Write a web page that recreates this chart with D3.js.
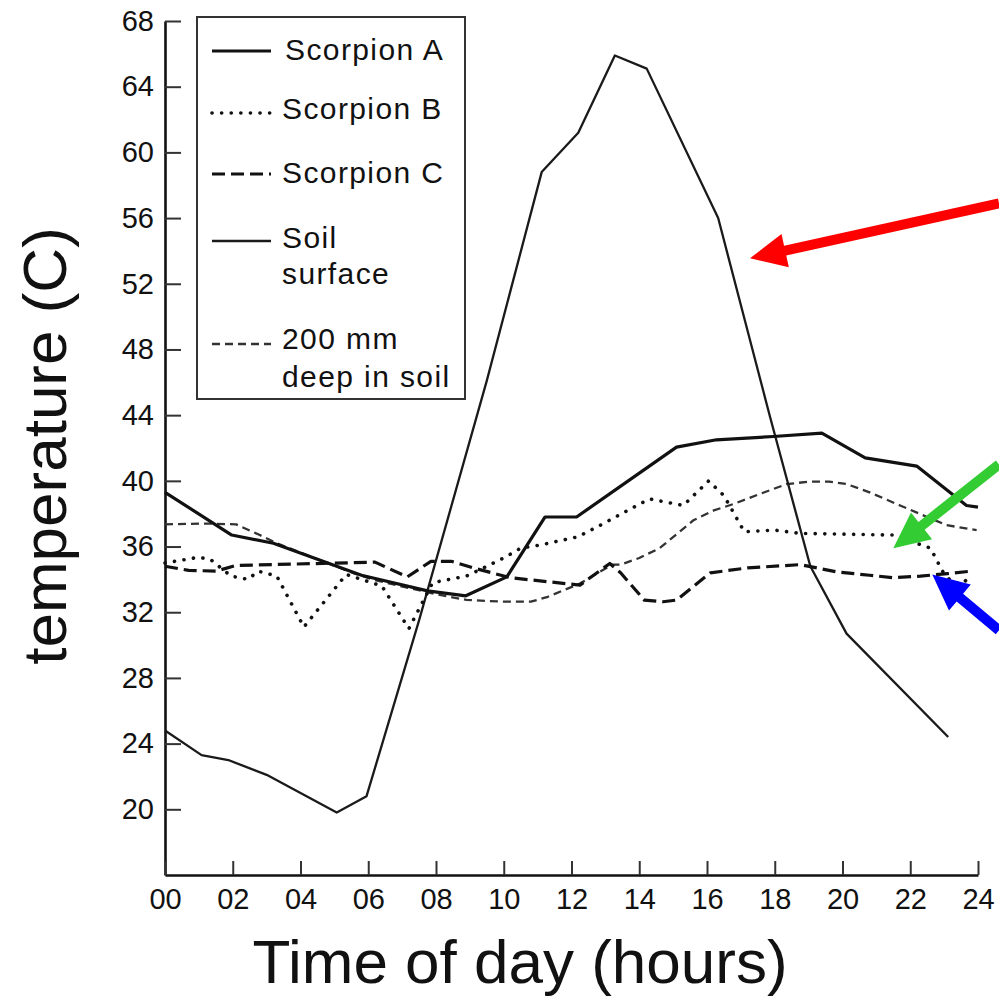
<!DOCTYPE html>
<html>
<head>
<meta charset="utf-8">
<script src="https://cdn.jsdelivr.net/npm/d3@7"></script>
<style>
  html, body { margin: 0; padding: 0; background: #ffffff; }
  svg { display: block; }
  text { font-family: "Liberation Sans", Arial, Helvetica, sans-serif; fill: #111; }
</style>
</head>
<body>
<svg id="chart" width="999" height="1004"></svg>
<script>
// ---------- data ----------
const xTickValues = [0, 2, 4, 6, 8, 10, 12, 14, 16, 18, 20, 22, 24];
const yTickValues = [20, 24, 28, 32, 36, 40, 44, 48, 52, 56, 60, 64, 68];

const scorpionAHours = [0, 1.97, 3.2, 5.8, 7.75, 8.88, 10.09, 11.22, 12.15, 15.1, 16.28, 17.96, 19.39, 20.67, 22.19, 23.66, 24];
const scorpionATemps = [39.3, 36.7, 36.2, 34.25, 33.3, 33.0, 34.15, 37.8, 37.8, 42.05, 42.5, 42.7, 42.9, 41.4, 40.9, 38.5, 38.4];

const scorpionBHours = [0, 1.0, 1.35, 1.95, 2.45, 2.75, 3.3, 4.1, 5.35, 6.4, 7.2, 7.9, 8.9, 10.0, 10.5, 11.1, 12.2, 12.85, 13.75, 14.3, 15.3, 16.05, 16.5, 17.1, 18.0, 18.75, 21.5, 22.6, 22.95, 23.2, 23.5, 23.8];
const scorpionBTemps = [35.0, 35.35, 35.2, 34.2, 34.0, 34.5, 34.2, 31.1, 34.3, 33.6, 31.0, 33.8, 34.2, 35.3, 35.9, 36.1, 36.6, 37.3, 38.3, 38.9, 38.5, 40.0, 39.1, 36.9, 37.0, 36.8, 36.7, 35.9, 34.5, 33.9, 33.7, 34.2];

const scorpionCHours = [0, 0.7, 1.5, 2.1, 6.2, 7.15, 7.85, 8.45, 9.1, 10.2, 12.25, 13.13, 13.45, 14.15, 14.7, 15.1, 16.1, 17.2, 18.75, 19.85, 20.8, 21.5, 22.3, 23.1, 23.8];
const scorpionCTemps = [34.8, 34.55, 34.5, 34.85, 35.05, 34.15, 35.1, 35.1, 34.7, 34.1, 33.65, 34.97, 34.4, 32.74, 32.64, 32.74, 34.4, 34.7, 34.9, 34.45, 34.25, 34.1, 34.2, 34.35, 34.5];

const soilSurfaceHours = [0, 1.08, 1.87, 3.0, 5.07, 5.95, 7.5, 9.5, 11.12, 12.2, 13.28, 14.22, 16.33, 17.86, 19.05, 20.12, 23.12];
const soilSurfaceTemps = [24.8, 23.3, 23.0, 22.1, 19.8, 20.8, 31.5, 46.1, 58.8, 61.2, 65.9, 65.1, 56.0, 43.9, 34.8, 30.7, 24.4];

const deepSoilHours = [0, 1.2, 2.1, 2.8, 3.3, 5.6, 6.2, 8.0, 8.9, 10.0, 10.8, 11.3, 12.25, 13.2, 13.45, 14.0, 14.6, 15.6, 16.2, 16.8, 17.56, 18.35, 19.0, 19.6, 20.13, 20.8, 21.7, 22.5, 23.07, 23.96];
const deepSoilTemps = [37.35, 37.4, 37.35, 36.7, 36.2, 34.35, 33.95, 33.1, 32.75, 32.64, 32.64, 32.94, 33.75, 34.9, 34.9, 35.3, 35.9, 37.6, 38.2, 38.6, 39.2, 39.8, 39.95, 39.95, 39.8, 39.3, 38.5, 37.8, 37.3, 37.0];

const seriesNames = ["Scorpion A", "Scorpion B", "Scorpion C", "Soil surface", "200 mm deep in soil"];
const legendLabels = [["Scorpion A"], ["Scorpion B"], ["Scorpion C"], ["Soil", "surface"], ["200 mm", "deep in soil"]];

// annotation arrows (tail -> tip) in data units (hours, °C)
const arrowColors = ["#ff0000", "#33cc33", "#0000ff"];
const arrowTailHours = [24.62, 24.62, 24.62];
const arrowTailTemps = [56.9, 41.0, 30.9];
const arrowTipHours = [17.27, 21.5, 22.65];
const arrowTipTemps = [53.55, 35.9, 34.3];

// ---------- layout ----------
const svg = d3.select("#chart");
const x = d3.scaleLinear().domain([0, 24]).range([165, 978]);
const y = d3.scaleLinear().domain([16, 68]).range([875, 21]);

const styles = [
  { width: 3.2, dash: null, color: "#111", cap: "butt" },
  { width: 3.6, dash: "0.1 9.5", color: "#111", cap: "round" },
  { width: 3.2, dash: "13 6", color: "#111", cap: "butt" },
  { width: 2.3, dash: null, color: "#1a1a1a", cap: "butt" },
  { width: 2.3, dash: "8 5", color: "#333", cap: "butt" }
];

const seriesData = [
  d3.zip(scorpionAHours, scorpionATemps),
  d3.zip(scorpionBHours, scorpionBTemps),
  d3.zip(scorpionCHours, scorpionCTemps),
  d3.zip(soilSurfaceHours, soilSurfaceTemps),
  d3.zip(deepSoilHours, deepSoilTemps)
];

// ---------- axes ----------
const yAxis = svg.append("g")
  .attr("transform", `translate(${x(0)},0)`)
  .call(d3.axisLeft(y).tickValues(yTickValues).tickSize(-16).tickSizeOuter(0).tickPadding(11));
yAxis.select(".domain").attr("stroke", "#111").attr("stroke-width", 2.6);
yAxis.selectAll(".tick line").attr("stroke", "#333").attr("stroke-width", 2);
yAxis.selectAll(".tick text").attr("font-size", 29).attr("fill", "#111")
  .attr("font-family", "'Liberation Sans', Arial, sans-serif");

const xAxis = svg.append("g")
  .attr("transform", `translate(0,${y(16)})`)
  .call(d3.axisBottom(x).tickValues(xTickValues).tickFormat(d3.format("02d")).tickSize(-14).tickSizeOuter(0).tickPadding(13));
xAxis.select(".domain").attr("stroke", "#111").attr("stroke-width", 2.6);
xAxis.selectAll(".tick line").attr("stroke", "#333").attr("stroke-width", 2);
xAxis.selectAll(".tick text").attr("font-size", 29).attr("fill", "#111")
  .attr("font-family", "'Liberation Sans', Arial, sans-serif");

// ---------- series ----------
const line = d3.line().x(d => x(d[0])).y(d => y(d[1]));
const order = [4, 3, 2, 1, 0];
order.forEach(i => {
  const s = styles[i];
  svg.append("path")
    .datum(seriesData[i])
    .attr("fill", "none")
    .attr("stroke", s.color)
    .attr("stroke-width", s.width)
    .attr("stroke-linecap", s.cap)
    .attr("stroke-linejoin", "round")
    .attr("stroke-dasharray", s.dash)
    .attr("d", line);
});

// ---------- legend ----------
const legend = svg.append("g");
legend.append("rect")
  .attr("x", 197).attr("y", 17).attr("width", 268).attr("height", 382)
  .attr("fill", "#fff").attr("stroke", "#333").attr("stroke-width", 2);
const legendLineY = [51, 113, 174, 241, 344];
const legendTextY = [[60], [119], [183], [248, 284], [349, 387]];
const legendTextX = [285, 282, 282, 282, 282];
seriesNames.forEach((name, i) => {
  const s = styles[i];
  legend.append("line")
    .attr("x1", 212).attr("x2", 271)
    .attr("y1", legendLineY[i]).attr("y2", legendLineY[i])
    .attr("stroke", s.color).attr("stroke-width", s.width)
    .attr("stroke-linecap", s.cap)
    .attr("stroke-dasharray", s.dash);
  legendLabels[i].forEach((t, j) => {
    legend.append("text")
      .attr("x", legendTextX[i]).attr("y", legendTextY[i][j])
      .attr("font-size", 30).attr("letter-spacing", "1.4px")
      .text(t);
  });
});

// ---------- arrows ----------
arrowColors.forEach((c, i) => {
  const x0 = x(arrowTailHours[i]), y0 = y(arrowTailTemps[i]);
  const x1 = x(arrowTipHours[i]), y1 = y(arrowTipTemps[i]);
  const ang = Math.atan2(y1 - y0, x1 - x0);
  const headLen = 36, headHalf = 17, shaft = 5;
  const bx = x1 - headLen * Math.cos(ang), by = y1 - headLen * Math.sin(ang);
  const nx = -Math.sin(ang), ny = Math.cos(ang);
  const pts = [
    [x0 + nx * shaft, y0 + ny * shaft],
    [bx + nx * shaft, by + ny * shaft],
    [bx + nx * headHalf, by + ny * headHalf],
    [x1, y1],
    [bx - nx * headHalf, by - ny * headHalf],
    [bx - nx * shaft, by - ny * shaft],
    [x0 - nx * shaft, y0 - ny * shaft]
  ];
  svg.append("path")
    .attr("d", d3.line()(pts) + "Z")
    .attr("fill", c);
});

// ---------- axis titles ----------
svg.append("text")
  .attr("transform", `translate(66,446) rotate(-90)`)
  .attr("text-anchor", "middle")
  .attr("font-size", 62)
  .attr("fill", "#000")
  .text("temperature (C)");

svg.append("text")
  .attr("x", 520).attr("y", 983)
  .attr("text-anchor", "middle")
  .attr("font-size", 62)
  .attr("fill", "#000")
  .text("Time of day (hours)");
</script>
</body>
</html>
